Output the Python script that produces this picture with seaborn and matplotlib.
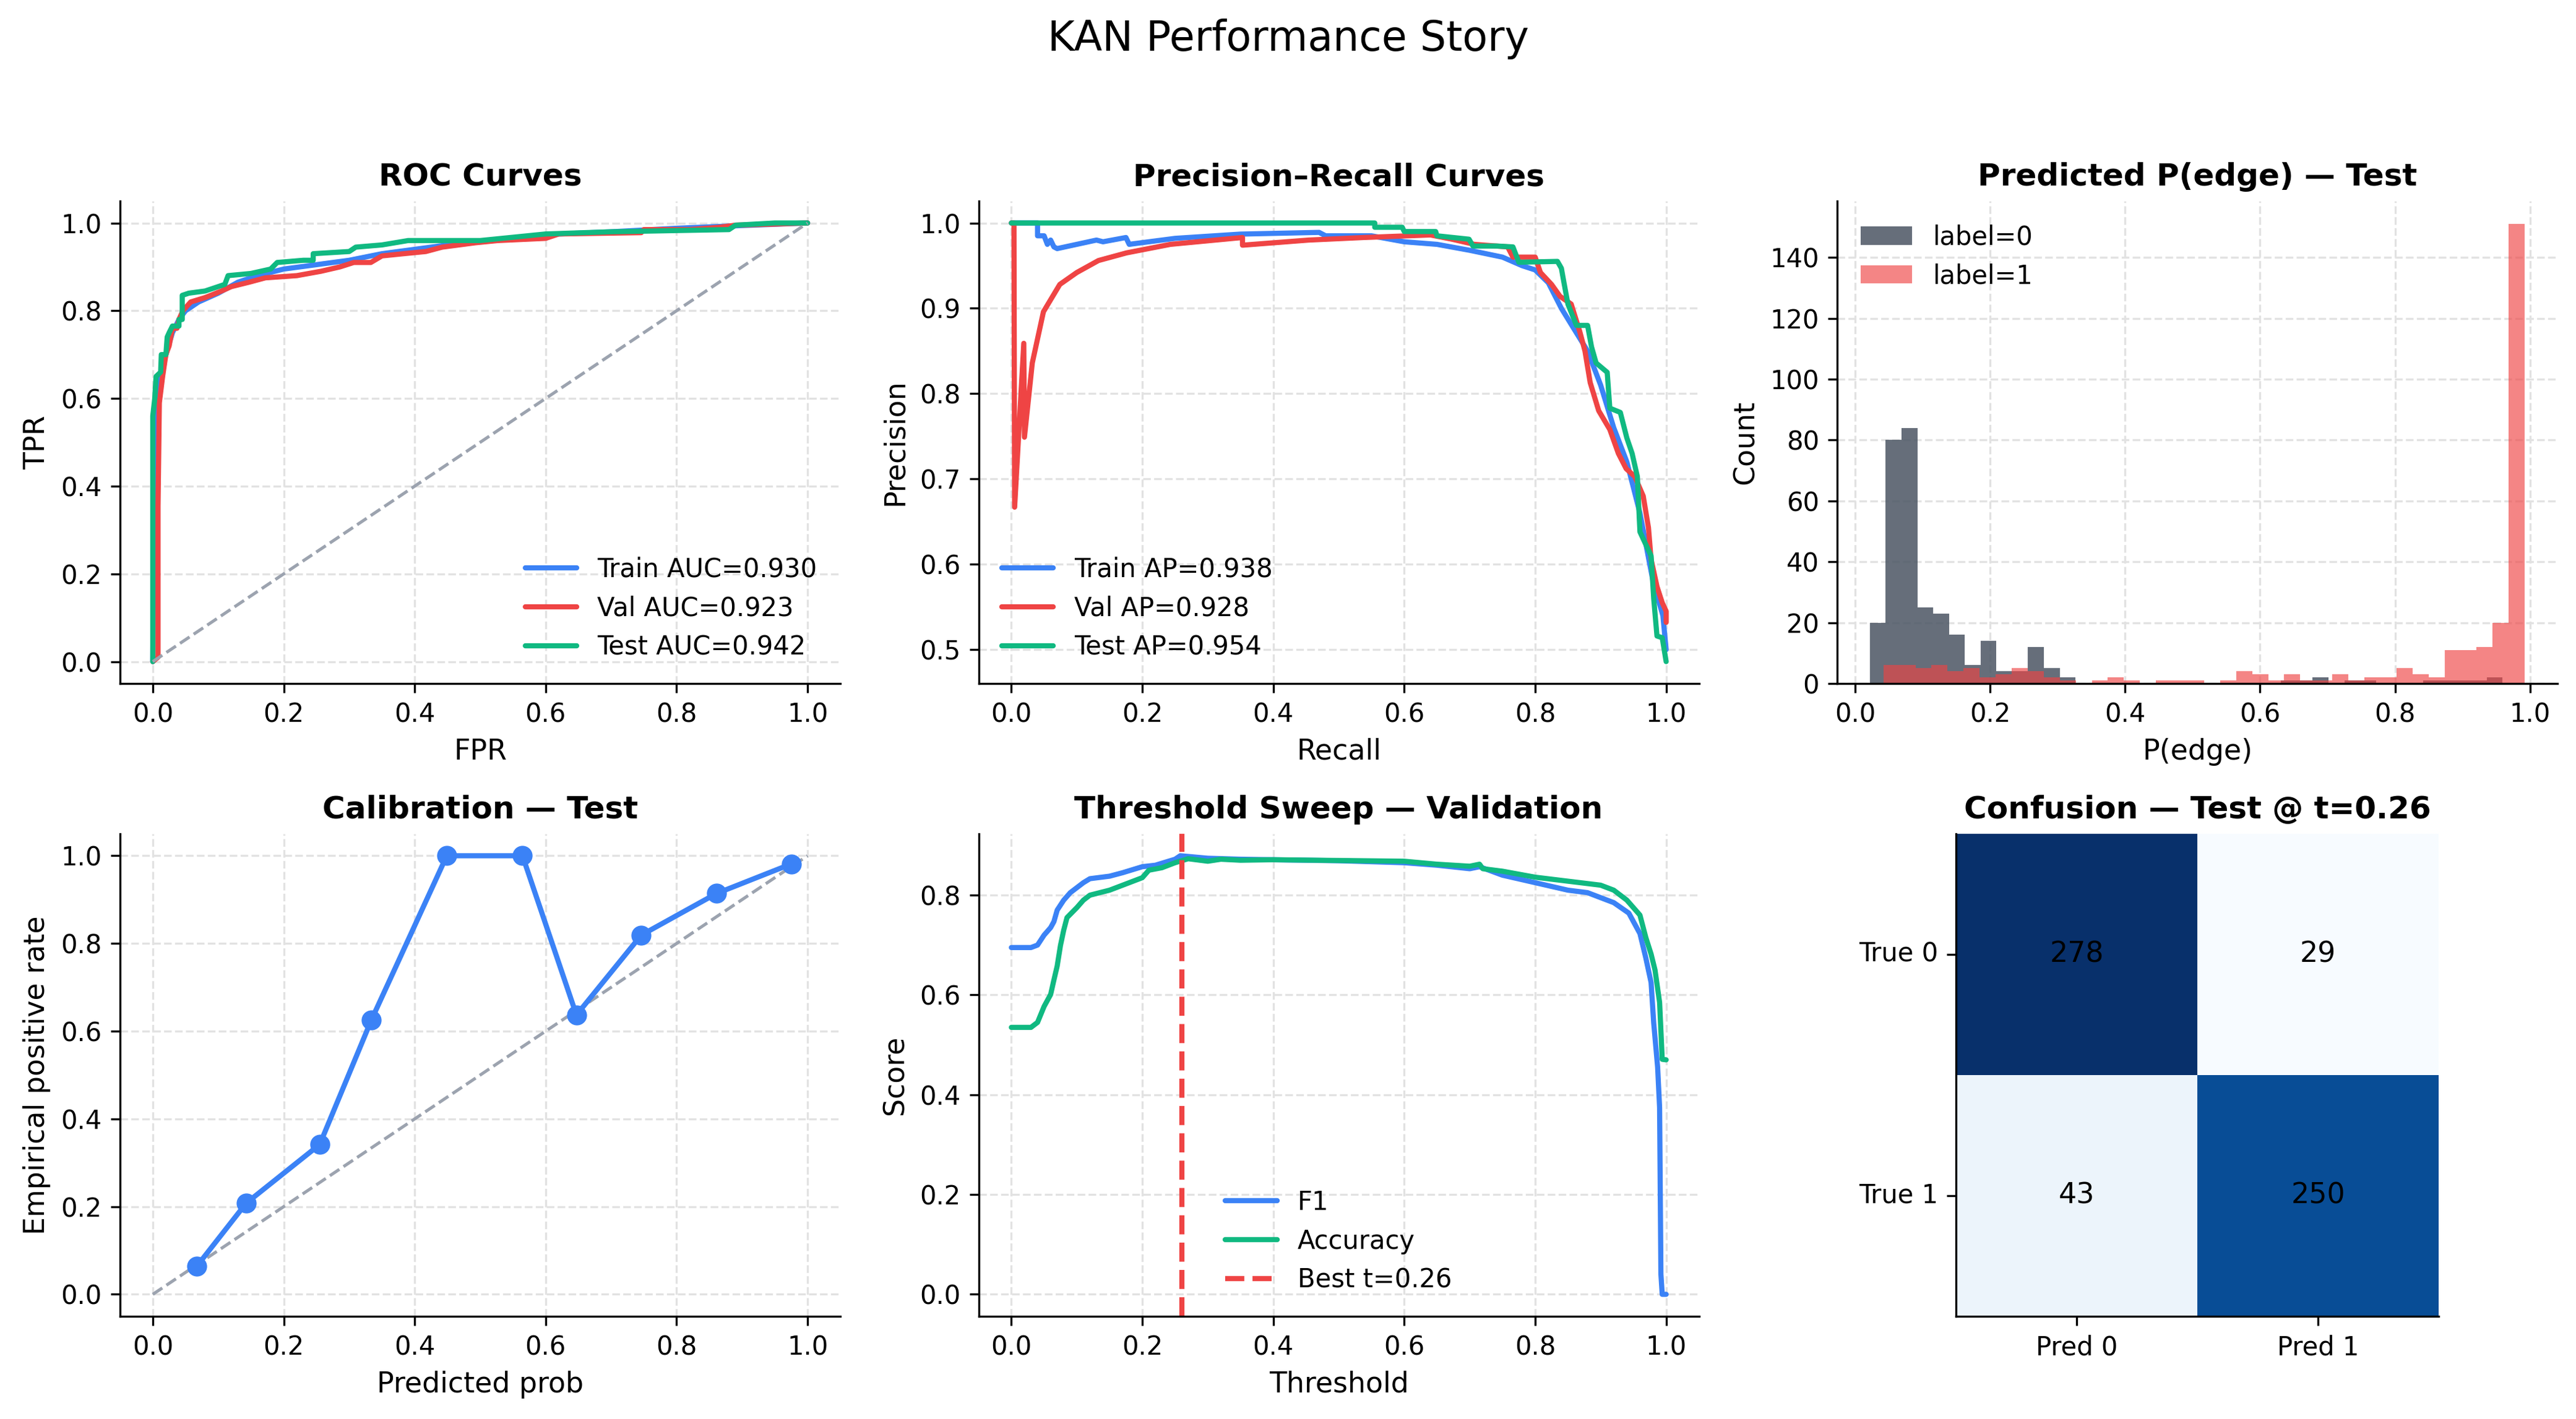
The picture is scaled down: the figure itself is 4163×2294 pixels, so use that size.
"""
KAN performance story: ROC / PR / score histogram / calibration /
threshold sweep / confusion matrix, rebuilt with seaborn.
"""
import numpy as np
import pandas as pd
import seaborn as sns
import matplotlib
matplotlib.use('Agg')
import matplotlib.pyplot as plt

BLUE = '#3b82f6'
RED = '#ef4444'
GREEN = '#10b981'
DIAG = '#9ca3af'
GRAYBAR = '#4b5563'

###############################################################################
# data
###############################################################################
# ROC curves
roc_train_fpr = [0.0, 0.002, 0.004, 0.006, 0.01, 0.015, 0.02, 0.03, 0.04, 0.05, 0.07,
                 0.10, 0.13, 0.16, 0.20, 0.25, 0.30, 0.35, 0.40, 0.45, 0.55, 0.62,
                 0.70, 0.80, 0.88, 0.95, 1.0]
roc_train_tpr = [0.0, 0.30, 0.50, 0.58, 0.63, 0.67, 0.70, 0.75, 0.78, 0.80, 0.82,
                 0.84, 0.865, 0.88, 0.895, 0.905, 0.915, 0.93, 0.94, 0.95, 0.965, 0.975,
                 0.98, 0.988, 0.993, 0.997, 1.0]
roc_val_fpr = [0.0, 0.008, 0.008, 0.010, 0.015, 0.02, 0.025, 0.03, 0.037, 0.04, 0.046,
               0.058, 0.08, 0.105, 0.12, 0.147, 0.172, 0.22, 0.257, 0.286, 0.307, 0.333,
               0.35, 0.383, 0.417, 0.442, 0.493, 0.527, 0.60, 0.62, 0.746, 0.75, 0.82,
               0.864, 0.89, 0.94, 1.0]
roc_val_tpr = [0.0, 0.01, 0.355, 0.59, 0.65, 0.70, 0.72, 0.76, 0.76, 0.78, 0.80,
               0.82, 0.83, 0.845, 0.855, 0.865, 0.875, 0.88, 0.89, 0.90, 0.91, 0.91,
               0.925, 0.93, 0.935, 0.945, 0.955, 0.96, 0.965, 0.975, 0.978, 0.985, 0.985,
               0.99, 0.995, 0.997, 1.0]
roc_test_fpr = [0.0, 0.0, 0.003, 0.005, 0.012, 0.013, 0.02, 0.022, 0.025, 0.03, 0.04,
                0.04, 0.045, 0.045, 0.055, 0.08, 0.10, 0.11, 0.115, 0.15, 0.18, 0.19,
                0.23, 0.245, 0.245, 0.30, 0.31, 0.35, 0.39, 0.50, 0.60, 0.70, 0.88,
                0.89, 0.95, 1.0]
roc_test_tpr = [0.0, 0.56, 0.60, 0.65, 0.66, 0.70, 0.70, 0.74, 0.75, 0.765, 0.765,
                0.78, 0.78, 0.835, 0.84, 0.845, 0.855, 0.86, 0.88, 0.885, 0.895, 0.91,
                0.915, 0.915, 0.93, 0.935, 0.945, 0.95, 0.96, 0.96, 0.975, 0.98, 0.985,
                0.995, 1.0, 1.0]
roc_auc = {'Train': 0.930, 'Val': 0.923, 'Test': 0.942}

# precision-recall curves
pr_train_rec = [0.0, 0.04, 0.04, 0.05, 0.055, 0.06, 0.065, 0.07, 0.10, 0.13, 0.14,
                0.175, 0.18, 0.25, 0.35, 0.47, 0.48, 0.55, 0.60, 0.65, 0.70, 0.75,
                0.78, 0.80, 0.82, 0.84, 0.86, 0.88, 0.90, 0.92, 0.94, 0.96, 0.98,
                0.995, 1.0]
pr_train_prec = [1.0, 1.0, 0.985, 0.985, 0.975, 0.98, 0.972, 0.970, 0.975, 0.98, 0.978,
                 0.983, 0.975, 0.982, 0.987, 0.989, 0.985, 0.985, 0.978, 0.975, 0.968, 0.96,
                 0.95, 0.945, 0.93, 0.90, 0.875, 0.85, 0.81, 0.76, 0.72, 0.66, 0.58,
                 0.54, 0.50]
pr_val_rec = [0.0, 0.004, 0.005, 0.019, 0.02, 0.032, 0.049, 0.074, 0.10, 0.133, 0.176,
              0.243, 0.353, 0.353, 0.454, 0.538, 0.64, 0.673, 0.707, 0.758, 0.766, 0.80,
              0.808, 0.825, 0.838, 0.855, 0.868, 0.876, 0.884, 0.897, 0.914, 0.927, 0.939,
              0.952, 0.965, 0.973, 0.977, 0.986, 0.994, 1.0, 1.0]
pr_val_prec = [1.0, 1.0, 0.667, 0.859, 0.749, 0.836, 0.896, 0.928, 0.942, 0.956, 0.965,
               0.975, 0.983, 0.974, 0.98, 0.983, 0.986, 0.981, 0.975, 0.972, 0.96, 0.96,
               0.942, 0.928, 0.914, 0.905, 0.873, 0.85, 0.813, 0.78, 0.758, 0.73, 0.712,
               0.703, 0.68, 0.643, 0.606, 0.574, 0.555, 0.545, 0.532]
pr_test_rec = [0.0, 0.555, 0.555, 0.597, 0.60, 0.648, 0.65, 0.699, 0.705, 0.741, 0.766,
               0.775, 0.834, 0.84, 0.844, 0.85, 0.863, 0.88, 0.886, 0.893, 0.91, 0.914,
               0.93, 0.94, 0.948, 0.956, 0.96, 0.977, 0.981, 0.986, 0.994, 1.0]
pr_test_prec = [1.0, 1.0, 0.995, 0.995, 0.99, 0.99, 0.985, 0.981, 0.973, 0.973, 0.972,
                0.954, 0.955, 0.947, 0.93, 0.905, 0.88, 0.88, 0.855, 0.836, 0.825, 0.783,
                0.778, 0.748, 0.73, 0.703, 0.638, 0.61, 0.56, 0.516, 0.514, 0.486]
pr_ap = {'Train': 0.938, 'Val': 0.928, 'Test': 0.954}

# predicted P(edge) histogram on test, 40 bins per label
hist0_range = (0.022, 0.959)
hist0_counts = [20, 80, 84, 25, 23, 16, 6, 14, 4, 4,
                12, 5, 2, 0, 0, 0, 0, 0, 0, 0,
                0, 0, 0, 0, 0, 0, 1, 1, 2, 0,
                1, 1, 0, 0, 0, 1, 1, 1, 1, 2]
hist1_range = (0.042, 0.992)
hist1_counts = [6, 6, 5, 6, 4, 5, 2, 3, 5, 4,
                2, 1, 0, 1, 2, 1, 0, 1, 1, 1,
                0, 1, 4, 3, 1, 3, 1, 1, 3, 1,
                2, 2, 5, 3, 2, 11, 11, 12, 20, 151]

# calibration (test)
calib_pred = [0.0675, 0.1426, 0.2549, 0.334, 0.449, 0.5646, 0.647, 0.746, 0.861, 0.9755]
calib_emp = [0.0646, 0.2078, 0.3416, 0.626, 1.0, 1.0, 0.637, 0.819, 0.914, 0.9815]

# threshold sweep (validation)
sweep_t_f1 = [0.0, 0.03, 0.04, 0.05, 0.06, 0.065, 0.07, 0.08, 0.09, 0.10, 0.11,
              0.12, 0.15, 0.17, 0.20, 0.22, 0.25, 0.258, 0.30, 0.35, 0.40, 0.50,
              0.60, 0.65, 0.70, 0.715, 0.75, 0.80, 0.85, 0.88, 0.90, 0.92, 0.943,
              0.96, 0.969, 0.977, 0.981, 0.987, 0.99, 0.992, 0.994, 1.0]
sweep_f1 = [0.695, 0.695, 0.70, 0.72, 0.735, 0.747, 0.77, 0.79, 0.805, 0.815, 0.825,
            0.833, 0.838, 0.845, 0.857, 0.86, 0.872, 0.879, 0.874, 0.872, 0.871, 0.869,
            0.865, 0.86, 0.853, 0.857, 0.84, 0.825, 0.81, 0.805, 0.795, 0.785, 0.764,
            0.723, 0.674, 0.625, 0.544, 0.455, 0.374, 0.04, 0.0, 0.0]
sweep_t_acc = [0.0, 0.03, 0.04, 0.05, 0.06, 0.065, 0.07, 0.075, 0.08, 0.085, 0.10,
               0.11, 0.12, 0.15, 0.18, 0.20, 0.21, 0.23, 0.25, 0.27, 0.30, 0.32,
               0.35, 0.40, 0.60, 0.65, 0.70, 0.715, 0.72, 0.75, 0.80, 0.85, 0.90,
               0.92, 0.94, 0.96, 0.969, 0.977, 0.983, 0.99, 0.994, 1.0]
sweep_acc = [0.535, 0.535, 0.545, 0.577, 0.601, 0.63, 0.658, 0.699, 0.73, 0.755, 0.775,
             0.79, 0.80, 0.81, 0.825, 0.835, 0.85, 0.855, 0.865, 0.873, 0.868, 0.872,
             0.87, 0.871, 0.868, 0.862, 0.858, 0.862, 0.853, 0.848, 0.836, 0.828, 0.82,
             0.81, 0.79, 0.76, 0.715, 0.682, 0.65, 0.585, 0.471, 0.47]
best_t = 0.26

# confusion matrix on test at best_t
conf_counts = [[278, 29], [43, 250]]
conf_rows = ['True 0', 'True 1']
conf_cols = ['Pred 0', 'Pred 1']

###############################################################################
# style
###############################################################################
sns.set_style('ticks', rc={
    'axes.grid': True,
    'grid.linestyle': '--',
    'grid.color': '#e2e2e2',
    'grid.linewidth': 0.8,
    'axes.edgecolor': 'black',
    'xtick.color': 'black',
    'ytick.color': 'black',
    'text.color': 'black',
    'axes.labelcolor': 'black',
})
plt.rcParams['font.family'] = ['DejaVu Sans']
plt.rcParams['xtick.labelsize'] = 10
plt.rcParams['ytick.labelsize'] = 10
plt.rcParams['axes.labelsize'] = 11
plt.rcParams['axes.titlesize'] = 12
plt.rcParams['axes.titleweight'] = 'bold'
plt.rcParams['legend.fontsize'] = 10
plt.rcParams['legend.frameon'] = False

fig, axes = plt.subplots(2, 3, figsize=(4163 / 300, 2294 / 300), dpi=300)
fig.subplots_adjust(left=0.0466, right=0.9928, top=0.8583, bottom=0.0724,
                    wspace=0.192, hspace=0.3115)
fig.suptitle('KAN Performance Story', fontsize=16, y=0.987)

LW = 2


def curve(ax, x, y, color, label=None, **kw):
    sns.lineplot(x=x, y=y, ax=ax, color=color, label=label, sort=False,
                 estimator=None, linewidth=kw.pop('lw', LW), **kw)


###############################################################################
# ROC
###############################################################################
ax = axes[0, 0]
curve(ax, roc_train_fpr, roc_train_tpr, BLUE, f"Train AUC={roc_auc['Train']:.3f}")
curve(ax, roc_val_fpr, roc_val_tpr, RED, f"Val AUC={roc_auc['Val']:.3f}")
curve(ax, roc_test_fpr, roc_test_tpr, GREEN, f"Test AUC={roc_auc['Test']:.3f}")
ax.plot([0, 1], [0, 1], ls='--', color=DIAG, lw=1.2)
ax.set(title='ROC Curves', xlabel='FPR', ylabel='TPR')
ax.legend(loc='lower right')

###############################################################################
# precision-recall
###############################################################################
ax = axes[0, 1]
curve(ax, pr_train_rec, pr_train_prec, BLUE, f"Train AP={pr_ap['Train']:.3f}")
curve(ax, pr_val_rec, pr_val_prec, RED, f"Val AP={pr_ap['Val']:.3f}")
curve(ax, pr_test_rec, pr_test_prec, GREEN, f"Test AP={pr_ap['Test']:.3f}")
ax.set(title='Precision\u2013Recall Curves', xlabel='Recall', ylabel='Precision')
ax.legend(loc='lower left')

###############################################################################
# histogram of predicted scores
###############################################################################
ax = axes[0, 2]
for rng, counts, color, alpha, lab in [
        (hist0_range, hist0_counts, GRAYBAR, 0.85, 'label=0'),
        (hist1_range, hist1_counts, RED, 0.65, 'label=1')]:
    nb = len(counts)
    edges = np.linspace(rng[0], rng[1], nb + 1)
    df = pd.DataFrame({'p': (edges[:-1] + edges[1:]) / 2, 'n': counts})
    sns.histplot(df, x='p', weights='n', bins=nb, binrange=rng, color=color,
                 alpha=alpha, linewidth=0, label=lab, ax=ax)
ax.set(title='Predicted P(edge) \u2014 Test', xlabel='P(edge)', ylabel='Count')
ax.set_xticks([0, 0.2, 0.4, 0.6, 0.8, 1.0])
ax.legend(loc='upper left')

###############################################################################
# calibration
###############################################################################
ax = axes[1, 0]
ax.plot([0, 1], [0, 1], ls='--', color=DIAG, lw=1.2)
sns.lineplot(x=calib_pred, y=calib_emp, ax=ax, color=BLUE, linewidth=LW, sort=False,
             estimator=None, marker='o', markersize=7, markeredgecolor=BLUE)
ax.set(title='Calibration \u2014 Test', xlabel='Predicted prob',
       ylabel='Empirical positive rate')

###############################################################################
# threshold sweep
###############################################################################
ax = axes[1, 1]
curve(ax, sweep_t_f1, sweep_f1, BLUE, 'F1')
curve(ax, sweep_t_acc, sweep_acc, GREEN, 'Accuracy')
ax.axvline(best_t, color=RED, ls='--', lw=2, label=f'Best t={best_t:.2f}')
ax.set(title='Threshold Sweep \u2014 Validation', xlabel='Threshold', ylabel='Score')
ax.legend(loc='lower center')

###############################################################################
# confusion matrix
###############################################################################
ax = axes[1, 2]
cm = pd.DataFrame(conf_counts, index=conf_rows, columns=conf_cols)
sns.heatmap(cm, ax=ax, cmap='Blues', cbar=False, square=True, annot=True, fmt='d',
            annot_kws={'color': 'black', 'fontsize': 11})
for side in ['left', 'bottom']:
    ax.spines[side].set_visible(True)
ax.tick_params(axis='both', length=3.5, width=0.8)
ax.set_yticklabels(conf_rows, rotation=0)
ax.set_xticklabels(conf_cols, rotation=0)
ax.grid(True)
ax.set(xlabel='', ylabel='')
ax.set_title(f'Confusion \u2014 Test @ t={best_t:.2f}')

for a in axes.flat:
    sns.despine(ax=a)

fig.savefig('out.png', dpi=300)
